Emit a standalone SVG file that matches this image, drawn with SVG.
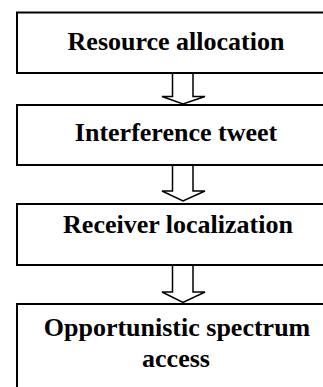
<svg xmlns="http://www.w3.org/2000/svg" width="323" height="387" viewBox="0 0 323 387">
<style>
.box{fill:#fff;stroke:#000;stroke-width:2}
.arr{fill:#fff;stroke:#000;stroke-width:1.5;stroke-linejoin:miter}
.t{font-family:"Liberation Serif","Times New Roman",serif;font-weight:bold;font-size:26px;text-anchor:middle;fill:#000}
</style>
<rect width="323" height="387" fill="#fff"/>
<g id="connectors">
<polygon class="arr" points="172.5,73 193,73 193,96.5 205,96.5 183,104 162,96.5 172.5,96.5"/>
<polygon class="arr" points="172.5,165 193,165 193,191 205,191 183,201 162,191 172.5,191"/>
<polygon class="arr" points="172.5,265 193,265 193,292 205,292 183,302.5 162,292 172.5,292"/>
</g>
<g id="node1">
<rect class="box" x="17" y="12.5" width="320" height="60.5"/>
<text class="t" x="176" y="50">Resource allocation</text>
</g>
<g id="node2">
<rect class="box" x="17" y="105" width="320" height="60"/>
<text class="t" x="176" y="141">Interference tweet</text>
</g>
<g id="node3">
<rect class="box" x="17" y="204" width="320" height="61"/>
<text class="t" x="178" y="233">Receiver localization</text>
</g>
<g id="node4">
<rect class="box" x="17" y="304" width="320" height="100"/>
<text class="t" x="177" y="336">Opportunistic spectrum</text>
<text class="t" x="176" y="367">access</text>
</g>
</svg>
